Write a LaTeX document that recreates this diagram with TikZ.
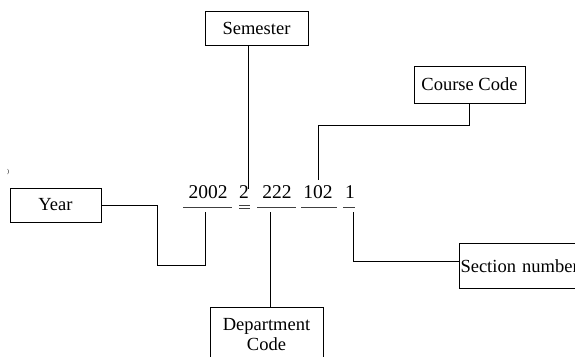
\documentclass[tikz,border=0pt]{standalone}
\usepackage{fontspec}
\setmainfont{Liberation Serif}
\begin{document}
\begin{tikzpicture}[x=1pt,y=-1pt,
    field/.style={draw,line width=1pt,inner sep=0pt,font=\fontsize{18.5}{22}\selectfont},
    digits/.style={anchor=base,inner sep=0pt,font=\fontsize{19.5}{22}\selectfont},
    link/.style={line width=1pt},
    uline/.style={line width=0.9pt,black!75}]
  \clip (0,0) rectangle (575,356);

  % Boxes
  \node[field,minimum width=103,minimum height=34] (semester) at (256.5,28.5) {Semester};
  \node[field,minimum width=111,minimum height=37] (course) at (469.5,84.5) {Course Code};
  \node[field,minimum width=91,minimum height=34] (year) at (55.5,205) {Year};
  \node[field,anchor=north,minimum width=113,minimum height=54,align=center] (dept) at (266.5,307) {Department\\[-2pt]Code};
  \node[field,anchor=north west,inner xsep=1pt,text width=128,align=left,minimum height=45] (section) at (459,243) {Section number};

  % Number
  \node[digits] (n2002) at (208,198) {2002};
  \node[digits] (n2) at (244,198) {2};
  \node[digits] (n222) at (277,198) {222};
  \node[digits] (n102) at (318,198) {102};
  \node[digits] (n1) at (350,198) {1};
  \node[font=\fontsize{6}{6}\selectfont,inner sep=0pt] (tick) at (8,172) {)};

  % Underlines
  \draw[uline] (183,207) -- (232,207);
  \draw[uline] (239,205) -- (250,205);
  \draw[uline] (239,208.5) -- (250,208.5);
  \draw[uline] (257,207) -- (296,207);
  \draw[uline] (301,207) -- (337,207);
  \draw[uline] (343,207) -- (355,207);

  % Joins
  \coordinate (a2002) at (205,212);
  \coordinate (a2) at (248,189);
  \coordinate (a222) at (270,212);
  \coordinate (a102) at (318,180);
  \coordinate (a1) at (353,212);
  \draw[link] (year.east) -| (157,265) -| (a2002);
  \draw[link] (semester.south -| a2) -- (a2);
  \draw[link] (course.south) -- ++(0,22) -| (a102);
  \draw[link] (dept.north -| a222) -- (a222);
  \draw[link] (a1) |- ([yshift=4.5pt]section.west);
\end{tikzpicture}
\end{document}
